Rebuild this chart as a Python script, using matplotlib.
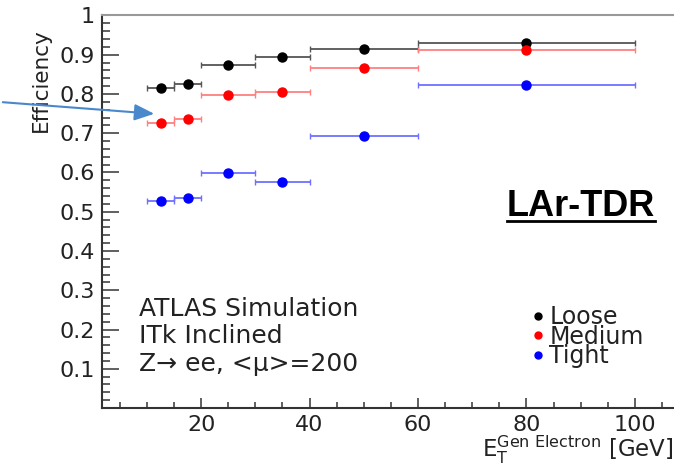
import numpy as np
import matplotlib.pyplot as plt
from matplotlib.lines import Line2D
from matplotlib.ticker import MultipleLocator, FixedLocator

# E_T bins of the generated electron [GeV]
bin_lo = np.array([10, 15, 20, 30, 40, 60])
bin_hi = np.array([15, 20, 30, 40, 60, 100])

eff_loose = [0.815, 0.825, 0.873, 0.895, 0.914, 0.929]
eff_medium = [0.726, 0.736, 0.797, 0.805, 0.866, 0.913]
eff_tight = [0.528, 0.535, 0.598, 0.577, 0.692, 0.824]

labels = ['Loose', 'Medium', 'Tight']
colors = ['black', 'red', 'blue']
err_colors = ['#555555', '#ff8080', '#7070ff']

x = 0.5 * (bin_lo + bin_hi)
xerr = 0.5 * (bin_hi - bin_lo)

fig = plt.figure(figsize=(6.74, 4.68), dpi=100)
ax = fig.add_axes([0.1513, 0.1282, 0.871, 0.8387])

for eff, c, ec in zip([eff_loose, eff_medium, eff_tight], colors, err_colors):
    ax.errorbar(x, eff, xerr=xerr, fmt='o', color=c, ecolor=ec, elinewidth=1.3,
                capsize=2.5, capthick=1.0, markersize=6.5, zorder=3)

ax.set_xlim(1.7, 110)
ax.set_ylim(0, 1)

ax.xaxis.set_major_locator(FixedLocator([20, 40, 60, 80, 100]))
ax.xaxis.set_minor_locator(MultipleLocator(5))
ax.yaxis.set_major_locator(FixedLocator([0.1, 0.2, 0.3, 0.4, 0.5, 0.6, 0.7, 0.8, 0.9, 1.0]))
ax.yaxis.set_minor_locator(MultipleLocator(0.02))
ax.set_yticklabels(['0.1', '0.2', '0.3', '0.4', '0.5', '0.6', '0.7', '0.8', '0.9', '1'])

ax.tick_params(axis='both', which='both', direction='in', colors='#444444',
               labelcolor='#222222', labelsize=16, width=1.2)
ax.tick_params(axis='y', which='major', length=12, pad=5)
ax.tick_params(axis='y', which='minor', length=6)
ax.tick_params(axis='x', which='major', length=7, pad=5)
ax.tick_params(axis='x', which='minor', length=4)

for side in ['left', 'bottom']:
    ax.spines[side].set_color('#333333')
    ax.spines[side].set_linewidth(1.5)
ax.spines['top'].set_color('#999999')
ax.spines['top'].set_linewidth(1.5)

ax.set_ylabel('Efficiency', fontsize=15.5, color='#222222', loc='top')
ax.yaxis.set_label_coords(-0.087, 0.968)
ax.set_xlabel(r'$\mathrm{E_{T}^{Gen\ Electron}}$ [GeV]', fontsize=16.5,
              color='#222222', loc='right')
ax.xaxis.set_label_coords(0.974, -0.066)

# ATLAS label block
ax.text(0.063, 0.234, 'ATLAS Simulation', transform=ax.transAxes, fontsize=18,
        color='#222222', va='baseline')
ax.text(0.063, 0.166, 'ITk Inclined', transform=ax.transAxes, fontsize=18,
        color='#222222', va='baseline')
ax.text(0.063, 0.094, 'Z→ ee, <μ>=200', transform=ax.transAxes, fontsize=18,
        color='#222222', va='baseline')

# underlined tag
tag = ax.text(0.69, 0.488, 'LAr-TDR', transform=ax.transAxes, fontsize=26,
              fontweight='bold', family='Liberation Sans', color='black',
              va='baseline')
fig.canvas.draw()
bb = tag.get_window_extent().transformed(fig.transFigure.inverted())
uy = 1 - 221 / 468
fig.add_artist(Line2D([bb.x0, bb.x1], [uy, uy], transform=fig.transFigure,
                      color='black', lw=2))

# legend with marker-only entries
handles = [Line2D([], [], marker='o', ls='none', color=c, markersize=5)
           for c in colors]
ax.legend(handles, labels, loc='upper left', bbox_to_anchor=(0.732, 0.262),
          frameon=False, fontsize=17, handlelength=0.55, handletextpad=0.2,
          labelspacing=-0.19, borderpad=0, borderaxespad=0, labelcolor='#222222')

# pointer arrow
ax.annotate('', xy=(157 / 674, 1 - 114 / 468), xycoords='figure fraction',
            xytext=(0, 1 - 102 / 468), textcoords='figure fraction',
            arrowprops=dict(arrowstyle='-|>,head_length=0.6,head_width=0.25',
                            mutation_scale=20, lw=1.5, color='#4a88cc'),
            annotation_clip=False)

fig.savefig('out.png', dpi=100)
